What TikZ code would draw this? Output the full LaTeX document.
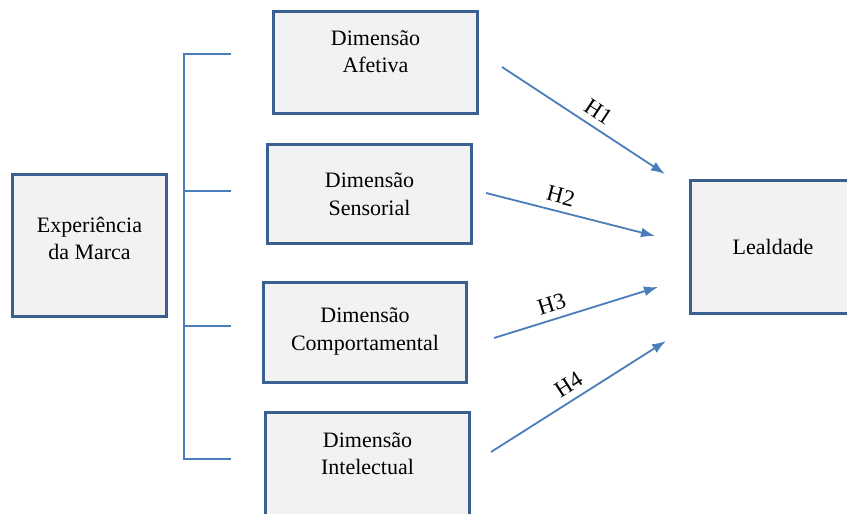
\documentclass[tikz,border=0pt]{standalone}
\usepackage{fontspec}
\setmainfont{Liberation Serif}
\usepackage{tikz}
\usetikzlibrary{arrows.meta,positioning}
\definecolor{boxline}{RGB}{58,96,143}
\definecolor{boxfill}{RGB}{242,242,242}
\definecolor{arrowblue}{RGB}{74,126,187}
\tikzstyle{dimbox} = [rectangle, draw=boxline, line width=3pt, fill=boxfill, align=center, text centered, font=\fontsize{22}{27.5}\selectfont]
\tikzstyle{hyp} = [draw=arrowblue, line width=1.8pt]
\tikzstyle{hlabel} = [sloped, above=5pt, inner sep=2pt, font=\fontsize{23}{26}\selectfont]

\begin{document}
\begin{tikzpicture}[x=1pt,y=-1pt,->,>={Latex[length=14pt,width=10pt]}]
            \useasboundingbox (0,0) rectangle (847,514);
            % boxes
            \node (Experiencia) [dimbox, minimum width=154pt, minimum height=142pt, text depth=14pt] at (89.5,245.5) {Experiência\\da Marca};
            \node (Afetiva) [dimbox, minimum width=204pt, minimum height=102pt, text depth=22pt] at (375.5,62.5) {Dimensão\\Afetiva};
            \node (Sensorial) [dimbox, minimum width=204pt, minimum height=99pt] at (369.5,194) {Dimensão\\Sensorial};
            \node (Comport) [dimbox, minimum width=203pt, minimum height=100pt, text depth=7pt] at (365,332.5) {Dimensão\\Comportamental};
            \node (Intelect) [dimbox, minimum width=204pt, minimum height=110pt, text depth=28pt] at (367.5,467.5) {Dimensão\\Intelectual};
            \node (Lealdade) [dimbox, minimum width=165pt, minimum height=133pt] at (773,247) {Lealdade};

            % bracket
            \coordinate (BrTop) at (184,54);
            \coordinate (BrBot) at (184,459);
            \draw[-, draw=arrowblue, line width=1.5pt] (BrTop -| 231,0) -- (BrTop) -- (BrBot) -- (BrBot -| 231,0);
            \draw[-, draw=arrowblue, line width=1.5pt] (184,191) -- (231,191);
            \draw[-, draw=arrowblue, line width=1.5pt] (184,326) -- (231,326);

            % hypotheses
            \coordinate (H1a) at (502,67);  \coordinate (H1b) at (665,174);
            \coordinate (H2a) at (486,193); \coordinate (H2b) at (655,236);
            \coordinate (H3a) at (494,338); \coordinate (H3b) at (658,287);
            \coordinate (H4a) at (491,452); \coordinate (H4b) at (666,341);
            \draw[hyp] (H1a) -- node[hlabel, pos=0.54] {H1} (H1b);
            \draw[hyp] (H2a) -- node[hlabel, pos=0.42] {H2} (H2b);
            \draw[hyp] (H3a) -- node[hlabel, pos=0.38] {H3} (H3b);
            \draw[hyp] (H4a) -- node[hlabel, pos=0.49] {H4} (H4b);
        \end{tikzpicture}
\end{document}
